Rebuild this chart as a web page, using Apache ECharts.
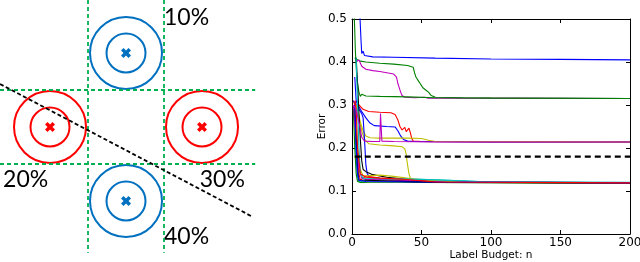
<!DOCTYPE html>
<html><head><meta charset="utf-8">
<script src="https://cdn.jsdelivr.net/npm/echarts@6/dist/echarts.min.js"></script>
<style>html,body{margin:0;padding:0;background:#fff}#c{width:640px;height:262px}</style>
</head><body><div id="c"></div>
<script>
// ---------- Left diagram data (cell units) ----------
const dividerX = [1, 2];
const dividerY = [1, 2];
const dividerSpanV = [-0.216, 3.2];
const dividerSpanH = [-0.158, 3.2];
const boundaryLine = [[-0.158, 0.919], [3.17, 2.716]];
const blueCenters = [[1.5, 0.5], [1.5, 2.5]];
const redCenters = [[0.5, 1.5], [2.5, 1.5]];
const pctLabels = ['10%', '20%', '30%', '40%'];
const pctPos = [[2.0, 0.016], [-0.118, 2.216], [2.47, 2.216], [2.0, 2.98]];

// ---------- Right chart data ----------
const xTicks = [0, 50, 100, 150, 200];
const yTicks = [0.0, 0.1, 0.2, 0.3, 0.4, 0.5];
const threshold = 0.18;
const thresholdRange = [2, 200];
const seriesColors = ['#0000ff','#008000','#bf00bf','#008000','#ff0000','#0000ff','#bfbf00','#bfbf00','#0000ff','#000000','#00bfbf','#ff0000','#008000','#bf00bf','#bfbf00','#000000','#00bfbf','#0000ff','#ff0000','#bf00bf'];
const s01 = [[5.5,0.52],[6.5,0.45],[7,0.42],[8,0.425],[9,0.415],[15,0.412],[30,0.411],[60,0.409],[100,0.407],[150,0.406],[200,0.405]];
const s02 = [[2,0.41],[4,0.405],[6,0.402],[10,0.40],[20,0.397],[30,0.395],[40,0.392],[44,0.388],[45,0.375],[46,0.365],[47,0.368],[48,0.355],[49,0.35],[50,0.345],[51,0.34],[52,0.342],[53,0.335],[54,0.337],[55,0.33],[57,0.322],[60,0.318],[80,0.317],[120,0.316],[200,0.315]];
const s03 = [[3,0.40],[5,0.405],[7,0.39],[10,0.383],[15,0.38],[20,0.378],[25,0.375],[30,0.372],[32,0.365],[33,0.35],[34,0.34],[35,0.33],[36,0.322],[38,0.318],[45,0.317],[52,0.318],[55,0.316],[200,0.315]];
const s04 = [[1.5,0.52],[2.5,0.42],[3.5,0.36],[5,0.33],[6,0.32],[7,0.325],[8,0.322],[10,0.321],[20,0.32],[40,0.319],[60,0.317],[100,0.316],[200,0.315]];
const s05 = [[1,0.31],[2,0.30],[3,0.31],[5,0.30],[8,0.29],[12,0.285],[20,0.283],[28,0.282],[31,0.278],[33,0.265],[34.5,0.25],[36,0.242],[37,0.245],[38,0.248],[39,0.238],[40,0.235],[41,0.246],[42,0.235],[43,0.222],[44,0.216],[50,0.215],[100,0.214],[200,0.214]];
const s06 = [[1,0.31],[3,0.30],[5,0.296],[7,0.285],[10,0.27],[13,0.258],[16,0.252],[25,0.25],[31,0.249],[33,0.24],[35,0.228],[37,0.22],[40,0.216],[45,0.215],[100,0.214],[200,0.214]];
const s08 = [[2,0.30],[4,0.29],[6,0.26],[8,0.24],[10,0.228],[13,0.224],[20,0.223],[30,0.223],[40,0.223],[50,0.222],[55,0.218],[60,0.215],[200,0.214]];
const s09 = [[3,0.30],[5,0.27],[7,0.24],[9,0.22],[12,0.21],[20,0.207],[30,0.205],[36,0.203],[38,0.198],[39,0.185],[40,0.16],[41,0.14],[42,0.13],[45,0.125],[60,0.122],[100,0.12],[200,0.119]];
const s10 = [[2,0.365],[3,0.31],[5,0.29],[7,0.28],[8,0.27],[9,0.22],[10,0.16],[11,0.14],[13,0.132],[20,0.128],[50,0.122],[100,0.12],[200,0.119]];
const s11 = [[3,0.41],[4,0.35],[5,0.28],[6,0.22],[7,0.17],[8,0.15],[10,0.145],[15,0.138],[25,0.132],[50,0.124],[80,0.121],[120,0.12],[200,0.119]];
const s12 = [[1,0.30],[2,0.25],[3,0.17],[4,0.13],[5,0.122],[10,0.124],[20,0.126],[40,0.128],[60,0.126],[80,0.124],[100,0.121],[200,0.119]];
const s13 = [[1,0.30],[2,0.26],[4,0.18],[5,0.14],[6,0.125],[8,0.13],[10,0.135],[20,0.13],[40,0.126],[60,0.122],[200,0.119]];
const s14 = [[1,0.29],[2,0.20],[3,0.14],[4,0.122],[6,0.12],[20,0.121],[50,0.12],[200,0.118]];
const s15 = [[1,0.30],[3,0.22],[5,0.15],[7,0.13],[10,0.127],[30,0.125],[60,0.122],[200,0.119]];
const s16 = [[2,0.29],[4,0.20],[6,0.15],[8,0.135],[20,0.137],[30,0.134],[45,0.128],[80,0.12],[200,0.119]];
const s17 = [[2,0.30],[3,0.22],[4,0.15],[5,0.125],[10,0.125],[30,0.123],[60,0.12],[200,0.119]];
const s18 = [[3,0.41],[4,0.30],[5,0.20],[6,0.14],[8,0.13],[20,0.129],[50,0.127],[90,0.122],[200,0.12]];
const s19 = [[2,0.30],[3,0.20],[4,0.14],[5,0.125],[10,0.122],[50,0.121],[200,0.119]];
const s20 = [[2,0.31],[3,0.29],[4,0.20],[6,0.14],[10,0.132],[20,0.13],[35,0.128],[60,0.121],[200,0.119]];
const s07 = [[1,0.30],[3,0.29],[5,0.26],[7,0.225],[9,0.216],[15,0.215],[20,0.215],[20.5,0.28],[21,0.28],[21.5,0.216],[30,0.215],[60,0.214],[200,0.214]];
const errorSeries = [s01,s02,s03,s04,s05,s06,s08,s09,s10,s11,s12,s13,s14,s15,s16,s17,s18,s19,s20,s07];

// ---------- Styles ----------
const BLUE = '#0070c0', RED = '#ff0000', GREEN = '#00b050';
const crossPath = 'path://M2.5,0L5,2.5L7.5,0L10,2.5L7.5,5L10,7.5L7.5,10L5,7.5L2.5,10L0,7.5L2.5,5L0,2.5Z';
const tickFont = {fontFamily: 'DejaVu Sans', fontSize: 12, color: '#000'};

const series = [];
dividerX.forEach(x => series.push({type:'line', xAxisIndex:0, yAxisIndex:0, silent:true, symbol:'none', clip:false,
  data:[[x, dividerSpanV[0]], [x, dividerSpanV[1]]], lineStyle:{color:GREEN, width:1.8, type:[4,3]}}));
dividerY.forEach(y => series.push({type:'line', xAxisIndex:0, yAxisIndex:0, silent:true, symbol:'none', clip:false,
  data:[[dividerSpanH[0], y], [dividerSpanH[1], y]], lineStyle:{color:GREEN, width:1.8, type:[4,3]}}));
[[blueCenters, BLUE], [redCenters, RED]].forEach(([pts, col]) => {
  [72, 39].forEach(sz => series.push({type:'scatter', xAxisIndex:0, yAxisIndex:0, silent:true, data:pts, symbol:'circle', symbolSize:sz,
    itemStyle:{color:'rgba(0,0,0,0)', borderColor:col, borderWidth:2, opacity:1}}));
  series.push({type:'scatter', xAxisIndex:0, yAxisIndex:0, silent:true, data:pts, symbol:crossPath, symbolSize:10, itemStyle:{color:col, opacity:1}});
});
series.push({type:'line', xAxisIndex:0, yAxisIndex:0, silent:true, symbol:'none', clip:false, data:boundaryLine,
  lineStyle:{color:'#000', width:1.8, type:[4,2.5]}, z:5});
series.push({type:'scatter', xAxisIndex:0, yAxisIndex:0, silent:true, symbolSize:0,
  data: pctPos.map((p,i)=>({value:p, name:pctLabels[i]})), itemStyle:{opacity:1},
  label:{show:true, position:'right', distance:0, formatter:'{b}', fontFamily:'Lato', fontSize:23, color:'#000'}});

errorSeries.forEach((d,i) => series.push({type:'line', xAxisIndex:1, yAxisIndex:1, silent:true, symbol:'none', data:d,
  lineStyle:{color:seriesColors[i], width:1.1}}));
series.push({type:'line', xAxisIndex:1, yAxisIndex:1, silent:true, symbol:'none',
  data:[[thresholdRange[0], threshold],[thresholdRange[1], threshold]], lineStyle:{color:'#000', width:2.2, type:[6,4]}, z:10});

const boxAxisX = (pos, show) => ({gridIndex:1, type:'value', position:pos, min:xTicks[0], max:xTicks[xTicks.length-1], interval:50,
  axisLine:{show:true, onZero:false, lineStyle:{color:'#000', width:1}}, axisTick:{show:true, inside:true, length:4, lineStyle:{color:'#000'}},
  axisLabel:{show:show, margin:3, ...tickFont}, splitLine:{show:false},
  name: show ? 'Label Budget: n' : '', nameLocation:'middle', nameGap:21, nameMoveOverlap:false,
  nameTextStyle:{fontFamily:'DejaVu Sans', fontSize:10.5, color:'#000', verticalAlign:'middle'}});
const boxAxisY = (pos, show) => ({gridIndex:1, type:'value', position:pos, min:yTicks[0], max:yTicks[yTicks.length-1], interval:0.1,
  axisLine:{show:true, onZero:false, lineStyle:{color:'#000', width:1}}, axisTick:{show:true, inside:true, length:4, lineStyle:{color:'#000'}},
  axisLabel:{show:show, margin:5, ...tickFont, formatter:v=>v.toFixed(1)}, splitLine:{show:false},
  name: show ? 'Error' : '', nameLocation:'middle', nameGap:30, nameRotate:90, nameMoveOverlap:false,
  nameTextStyle:{fontFamily:'DejaVu Sans', fontSize:10.5, color:'#000', verticalAlign:'middle'}});

const option = {
  animation:false,
  backgroundColor:'#fff',
  grid:[{left:0, top:0, width:260, height:262, outerBoundsMode:'none', containLabel:false},
        {left:352, top:19, width:278, height:215, outerBoundsMode:'none', containLabel:false}],
  xAxis:[{gridIndex:0, type:'value', min:-0.158, max:3.263, show:false}, boxAxisX('bottom', true), boxAxisX('top', false)],
  yAxis:[{gridIndex:0, type:'value', min:-0.216, max:3.324, inverse:true, show:false}, boxAxisY('left', true), boxAxisY('right', false)],
  series
};
echarts.init(document.getElementById('c'), null, {renderer:'canvas'}).setOption(option);
</script></body></html>
